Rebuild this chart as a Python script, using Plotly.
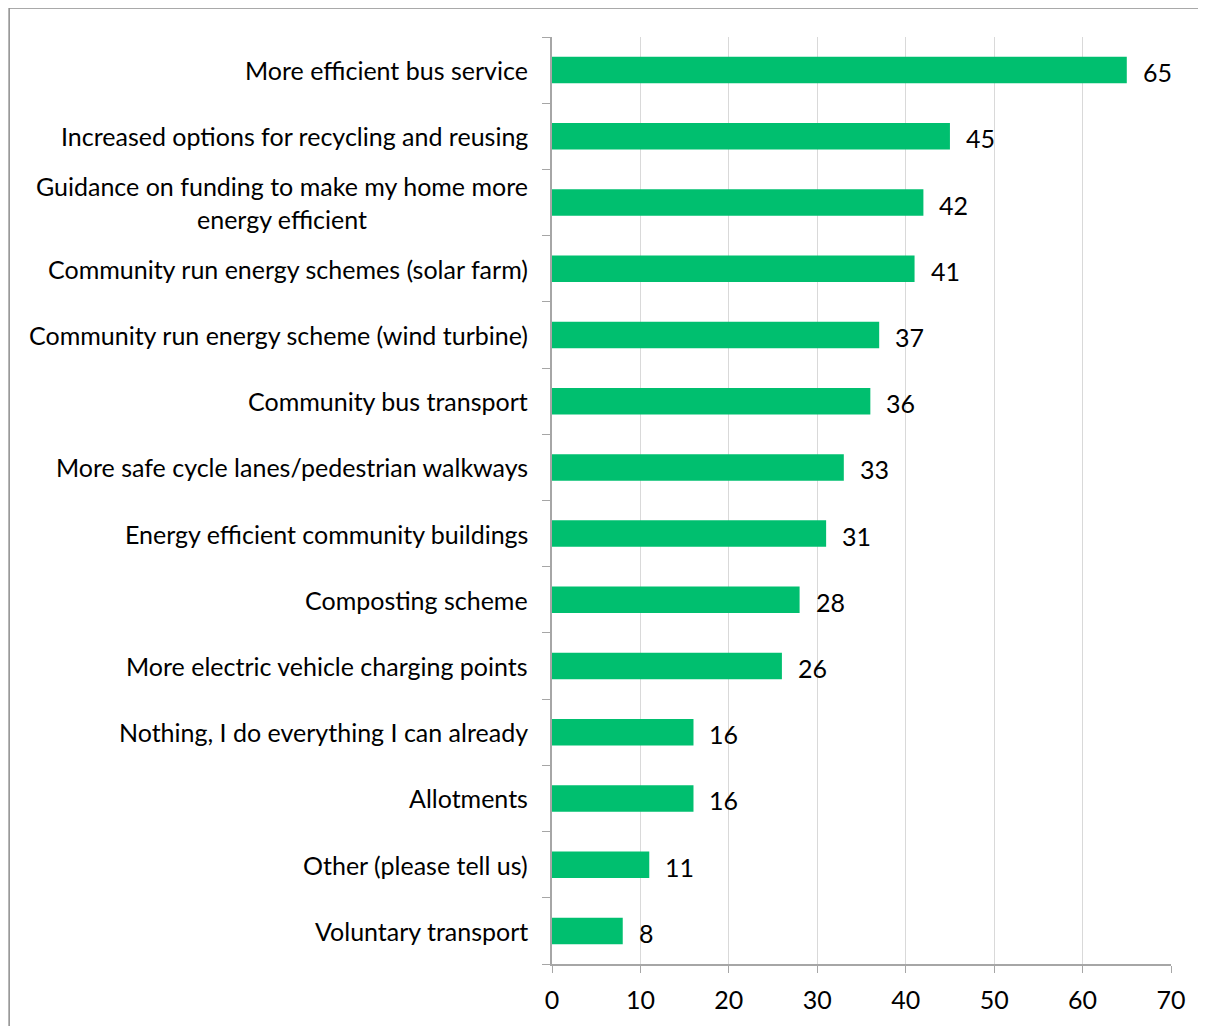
import plotly.graph_objects as go

categories = [
    "More efficient bus service",
    "Increased options for recycling and reusing",
    "Guidance on funding to make my home more<br>energy efficient",
    "Community run energy schemes (solar farm)",
    "Community run energy scheme (wind turbine)",
    "Community bus transport",
    "More safe cycle lanes/pedestrian walkways",
    "Energy efficient community buildings",
    "Composting scheme",
    "More electric vehicle charging points",
    "Nothing, I do everything I can already",
    "Allotments",
    "Other (please tell us)",
    "Voluntary transport",
]
values = [65, 45, 42, 41, 37, 36, 33, 31, 28, 26, 16, 16, 11, 8]
x_ticks = [0, 10, 20, 30, 40, 50, 60, 70]

cats_rev = categories[::-1]
vals_rev = values[::-1]
FONT = "Lato, Open Sans, sans-serif"
FS = 25

fig = go.Figure(go.Bar(
    x=vals_rev, y=list(range(len(cats_rev))), orientation="h",
    marker=dict(color="#00BF6F", line=dict(width=0)),
    width=0.4, cliponaxis=False, hoverinfo="skip",
))

annotations = []
for i, (c, v) in enumerate(zip(cats_rev, vals_rev)):
    annotations.append(dict(x=v, y=i, xref="x", yref="y", text=str(v), showarrow=False,
                            xanchor="left", xshift=14, yshift=-2,
                            font=dict(family=FONT, size=FS, color="#000")))
    annotations.append(dict(x=0, y=i, xref="paper", yref="y", text=c, showarrow=False,
                            xanchor="right", align="center", xshift=-22,
                            font=dict(family=FONT, size=FS, color="#000")))

fig.update_layout(
    width=1198, height=1018,
    margin=dict(l=544, r=35, t=29, b=59),
    plot_bgcolor="white", paper_bgcolor="white",
    showlegend=False,
    annotations=annotations,
    xaxis=dict(range=[0, 70], tickvals=x_ticks, showgrid=True, gridcolor="#D9D9D9", gridwidth=1,
               zeroline=False, showline=True, linecolor="#A6A6A6", linewidth=1.5,
               ticks="outside", ticklen=7, tickcolor="#A6A6A6", ticklabelstandoff=6,
               tickfont=dict(family=FONT, size=FS, color="#000")),
    yaxis=dict(range=[-0.5, len(cats_rev) - 0.5], tickvals=[i - 0.5 for i in range(len(cats_rev) + 1)],
               showticklabels=False, showgrid=False, zeroline=False,
               showline=True, linecolor="#A6A6A6", linewidth=1.5,
               ticks="outside", ticklen=8, tickcolor="#A6A6A6"),
    shapes=[
        dict(type="line", xref="paper", yref="paper", x0=-0.877, x1=1.2, y0=1.0312, y1=1.0312,
             line=dict(color="#8C8C8C", width=1.5)),
        dict(type="line", xref="paper", yref="paper", x0=-0.877, x1=-0.877, y0=1.0312, y1=-0.1,
             line=dict(color="#8C8C8C", width=1.5)),
    ],
)

fig.write_html("out.html")
